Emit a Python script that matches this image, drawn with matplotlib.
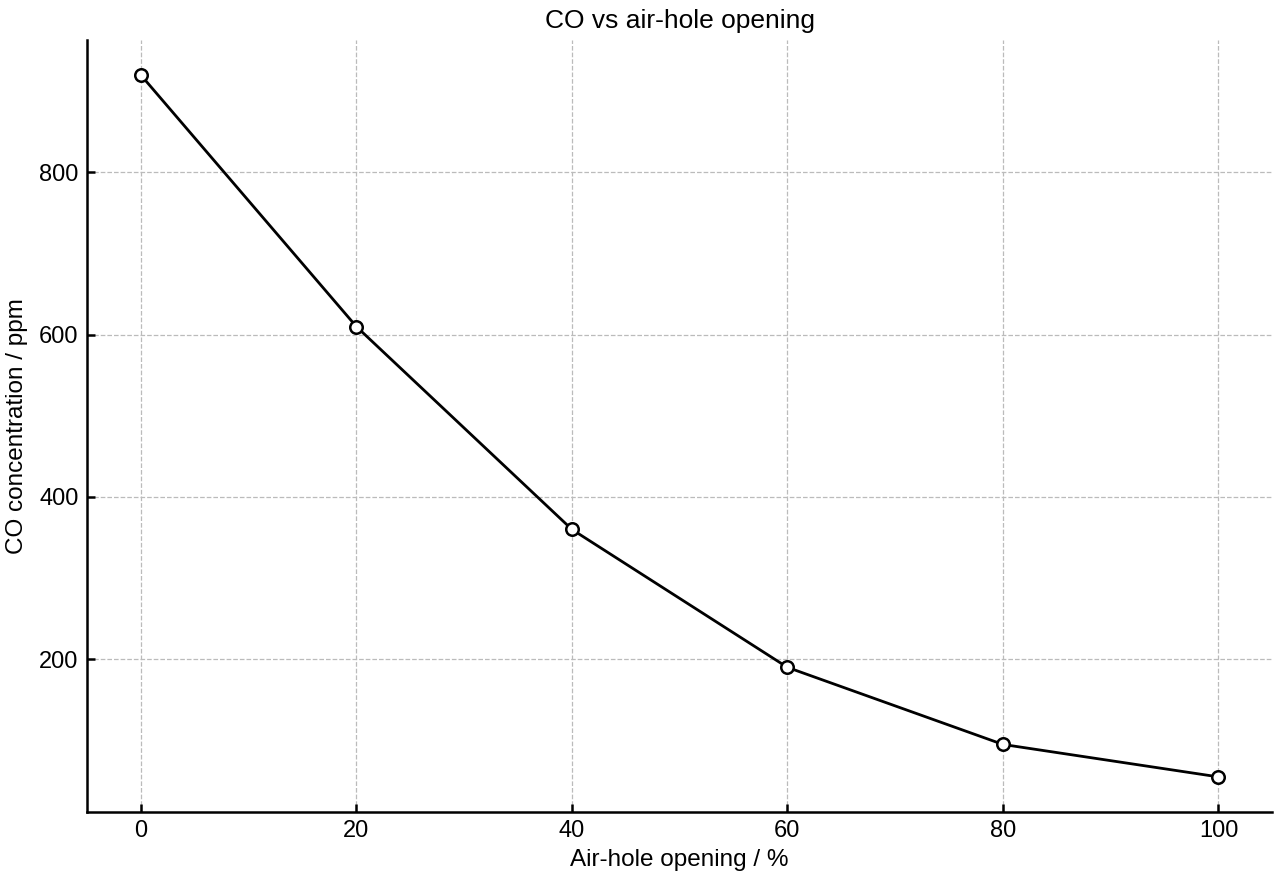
import matplotlib
matplotlib.use('Agg')
import matplotlib.pyplot as plt

opening = [0, 20, 40, 60, 80, 100]
co_ppm = [920, 610, 360, 190, 95, 55]

plt.rcParams['font.family'] = ['Liberation Sans', 'DejaVu Sans']

fig = plt.figure(figsize=(12.8, 8.8), dpi=100)
ax = fig.add_axes([0.068, 0.0773, 0.926, 0.8772])

ax.plot(opening, co_ppm, color='black', linewidth=2, marker='o', markersize=9,
        markerfacecolor='white', markeredgecolor='black', markeredgewidth=1.8, zorder=3)

ax.set_title('CO vs air-hole opening', fontsize=19, pad=9)
ax.set_xlabel('Air-hole opening / %', fontsize=17.5, labelpad=5)
ax.set_ylabel('CO concentration / ppm', fontsize=17.5, labelpad=8)
ax.set_xticks([0, 20, 40, 60, 80, 100])
ax.set_yticks([200, 400, 600, 800])
ax.tick_params(direction='in', labelsize=17, width=1.8, length=6, pad=6)
ax.grid(True, linestyle='--', color='#bbbbbb', linewidth=0.9)
ax.spines['top'].set_visible(False)
ax.spines['right'].set_visible(False)
ax.spines['left'].set_linewidth(1.8)
ax.spines['bottom'].set_linewidth(1.8)

fig.savefig('out.png', dpi=100)
